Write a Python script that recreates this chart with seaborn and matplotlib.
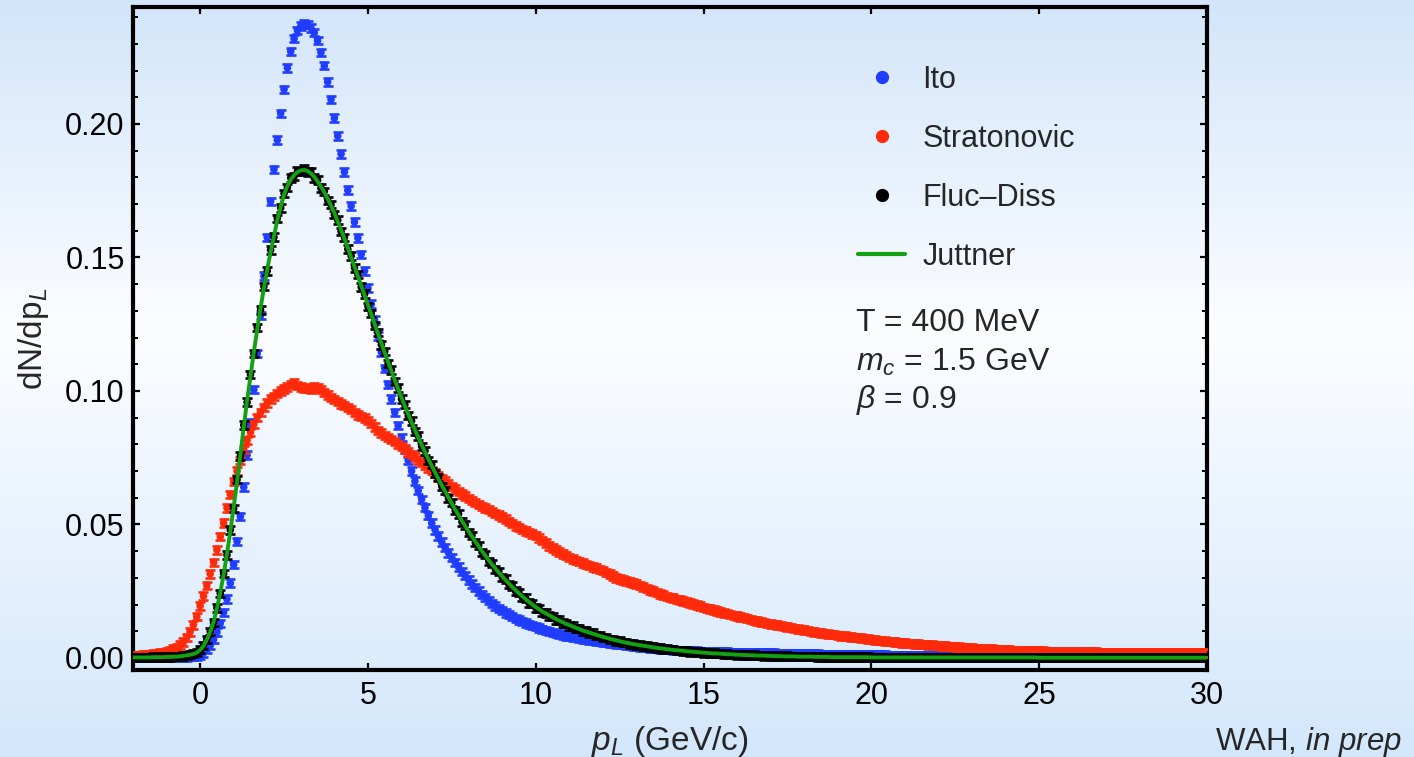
import numpy as np
import pandas as pd
import matplotlib
matplotlib.use("Agg")
import matplotlib.pyplot as plt
from matplotlib.lines import Line2D
from matplotlib.ticker import MultipleLocator, FixedLocator
import seaborn as sns

# ---------------------------------------------------------------------------
# Longitudinal momentum spectra of charm quarks, bins of 0.1 GeV/c from -2 to 30
# ---------------------------------------------------------------------------
P_START = -2.0
P_STEP = 0.1

ito = [
    0.0001, 0.0001, 0.0001, 0.0001, 0.0001, 0.0001, 0.0001, 0.0001, 0.0002, 0.0002,
    0.0002, 0.0002, 0.0002, 0.0002, 0.0003, 0.0003, 0.0004, 0.0005, 0.0006, 0.0008,
    0.0011, 0.0019, 0.0031, 0.0047, 0.0069, 0.0097, 0.0130, 0.0171, 0.0221, 0.0280,
    0.0350, 0.0437, 0.0530, 0.0640, 0.0760, 0.0880, 0.1005, 0.1140, 0.1282, 0.1430,
    0.1575, 0.1710, 0.1830, 0.1940, 0.2040, 0.2130, 0.2210, 0.2272, 0.2320, 0.2350,
    0.2366, 0.2375, 0.2372, 0.2360, 0.2342, 0.2312, 0.2268, 0.2218, 0.2158, 0.2092,
    0.2022, 0.1955, 0.1888, 0.1820, 0.1752, 0.1693, 0.1633, 0.1573, 0.1512, 0.1450,
    0.1385, 0.1325, 0.1265, 0.1205, 0.1145, 0.1085, 0.1025, 0.0970, 0.0920, 0.0870,
    0.0825, 0.0780, 0.0740, 0.0700, 0.0662, 0.0627, 0.0594, 0.0563, 0.0533, 0.0505,
    0.0480, 0.0456, 0.0434, 0.0413, 0.0394, 0.0376, 0.0358, 0.0341, 0.0324, 0.0308,
    0.0292, 0.0277, 0.0263, 0.0250, 0.0238, 0.0226, 0.0215, 0.0204, 0.0194, 0.0185,
    0.0177, 0.0169, 0.0162, 0.0155, 0.0148, 0.0142, 0.0136, 0.0131, 0.0126, 0.0121,
    0.0117, 0.0112, 0.0107, 0.0103, 0.0099, 0.0095, 0.0092, 0.0089, 0.0086, 0.0083,
    0.0080, 0.0078, 0.0076, 0.0073, 0.0071, 0.0069, 0.0067, 0.0065, 0.0063, 0.0061,
    0.0060, 0.0058, 0.0056, 0.0055, 0.0053, 0.0051, 0.0050, 0.0048, 0.0046, 0.0045,
    0.0043, 0.0042, 0.0040, 0.0039, 0.0037, 0.0036, 0.0035, 0.0034, 0.0033, 0.0032,
    0.0031, 0.0030, 0.0029, 0.0029, 0.0028, 0.0027, 0.0027, 0.0026, 0.0026, 0.0025,
    0.0025, 0.0024, 0.0024, 0.0023, 0.0023, 0.0022, 0.0022, 0.0022, 0.0021, 0.0021,
    0.0021, 0.0020, 0.0020, 0.0020, 0.0019, 0.0019, 0.0019, 0.0019, 0.0018, 0.0018,
    0.0018, 0.0018, 0.0017, 0.0017, 0.0017, 0.0017, 0.0016, 0.0016, 0.0016, 0.0016,
    0.0015, 0.0015, 0.0015, 0.0015, 0.0015, 0.0014, 0.0014, 0.0014, 0.0014, 0.0014,
    0.0013, 0.0013, 0.0013, 0.0013, 0.0013, 0.0012, 0.0012, 0.0012, 0.0012, 0.0012,
    0.0011, 0.0011, 0.0011, 0.0011, 0.0011, 0.0010, 0.0010, 0.0010, 0.0010, 0.0010,
    0.0010, 0.0009, 0.0009, 0.0009, 0.0009, 0.0009, 0.0009, 0.0008, 0.0008, 0.0008,
    0.0008, 0.0008, 0.0008, 0.0008, 0.0007, 0.0007, 0.0007, 0.0007, 0.0007, 0.0007,
    0.0007, 0.0006, 0.0006, 0.0006, 0.0006, 0.0006, 0.0006, 0.0006, 0.0006, 0.0005,
    0.0005, 0.0005, 0.0005, 0.0005, 0.0005, 0.0005, 0.0005, 0.0005, 0.0005, 0.0005,
    0.0005, 0.0005, 0.0005, 0.0004, 0.0004, 0.0004, 0.0004, 0.0004, 0.0004, 0.0004,
    0.0004, 0.0004, 0.0004, 0.0004, 0.0004, 0.0004, 0.0004, 0.0004, 0.0004, 0.0004,
    0.0004, 0.0004, 0.0004, 0.0003, 0.0003, 0.0003, 0.0003, 0.0003, 0.0003, 0.0003,
    0.0003, 0.0003, 0.0003, 0.0003, 0.0003, 0.0003, 0.0003, 0.0003, 0.0003, 0.0003,
    0.0003, 0.0003, 0.0003, 0.0003, 0.0003, 0.0003, 0.0003, 0.0003, 0.0003, 0.0003,
    0.0003,
]

stratonovic = [
    0.0008, 0.0009, 0.0010, 0.0011, 0.0012, 0.0014, 0.0015, 0.0017, 0.0019, 0.0021,
    0.0024, 0.0028, 0.0033, 0.0040, 0.0048, 0.0059, 0.0077, 0.0098, 0.0124, 0.0155,
    0.0195, 0.0232, 0.0272, 0.0315, 0.0358, 0.0405, 0.0455, 0.0505, 0.0562, 0.0613,
    0.0660, 0.0700, 0.0740, 0.0780, 0.0815, 0.0845, 0.0875, 0.0900, 0.0920, 0.0938,
    0.0955, 0.0970, 0.0980, 0.0990, 0.1000, 0.1008, 0.1015, 0.1025, 0.1030, 0.1020,
    0.1015, 0.1010, 0.1012, 0.1008, 0.1015, 0.1012, 0.1005, 0.0995, 0.0985, 0.0975,
    0.0968, 0.0960, 0.0952, 0.0945, 0.0938, 0.0930, 0.0920, 0.0910, 0.0905, 0.0898,
    0.0890, 0.0878, 0.0865, 0.0852, 0.0842, 0.0833, 0.0825, 0.0818, 0.0810, 0.0800,
    0.0792, 0.0782, 0.0772, 0.0762, 0.0752, 0.0742, 0.0732, 0.0722, 0.0712, 0.0702,
    0.0692, 0.0682, 0.0672, 0.0662, 0.0652, 0.0642, 0.0633, 0.0624, 0.0615, 0.0606,
    0.0598, 0.0590, 0.0582, 0.0575, 0.0568, 0.0562, 0.0556, 0.0549, 0.0542, 0.0535,
    0.0528, 0.0520, 0.0512, 0.0504, 0.0495, 0.0488, 0.0482, 0.0476, 0.0470, 0.0464,
    0.0458, 0.0449, 0.0440, 0.0430, 0.0420, 0.0412, 0.0405, 0.0397, 0.0390, 0.0383,
    0.0377, 0.0371, 0.0366, 0.0361, 0.0356, 0.0351, 0.0346, 0.0341, 0.0337, 0.0332,
    0.0327, 0.0321, 0.0315, 0.0307, 0.0300, 0.0296, 0.0292, 0.0288, 0.0285, 0.0281,
    0.0277, 0.0271, 0.0265, 0.0260, 0.0255, 0.0250, 0.0245, 0.0240, 0.0235, 0.0231,
    0.0227, 0.0224, 0.0220, 0.0217, 0.0213, 0.0210, 0.0206, 0.0202, 0.0198, 0.0194,
    0.0190, 0.0186, 0.0183, 0.0179, 0.0176, 0.0172, 0.0169, 0.0166, 0.0163, 0.0160,
    0.0158, 0.0154, 0.0151, 0.0147, 0.0144, 0.0140, 0.0138, 0.0135, 0.0133, 0.0130,
    0.0128, 0.0126, 0.0123, 0.0121, 0.0118, 0.0116, 0.0114, 0.0111, 0.0109, 0.0106,
    0.0104, 0.0102, 0.0100, 0.0098, 0.0096, 0.0094, 0.0092, 0.0090, 0.0088, 0.0087,
    0.0085, 0.0083, 0.0082, 0.0080, 0.0079, 0.0077, 0.0076, 0.0074, 0.0072, 0.0071,
    0.0069, 0.0068, 0.0066, 0.0065, 0.0064, 0.0062, 0.0061, 0.0060, 0.0058, 0.0057,
    0.0056, 0.0055, 0.0054, 0.0053, 0.0052, 0.0051, 0.0050, 0.0049, 0.0048, 0.0047,
    0.0046, 0.0045, 0.0044, 0.0043, 0.0043, 0.0042, 0.0041, 0.0040, 0.0039, 0.0038,
    0.0037, 0.0036, 0.0036, 0.0035, 0.0034, 0.0033, 0.0033, 0.0032, 0.0031, 0.0031,
    0.0030, 0.0030, 0.0029, 0.0029, 0.0028, 0.0028, 0.0028, 0.0027, 0.0027, 0.0026,
    0.0026, 0.0026, 0.0025, 0.0025, 0.0025, 0.0024, 0.0024, 0.0024, 0.0023, 0.0023,
    0.0023, 0.0023, 0.0023, 0.0022, 0.0022, 0.0022, 0.0022, 0.0022, 0.0021, 0.0021,
    0.0021, 0.0021, 0.0021, 0.0021, 0.0020, 0.0020, 0.0020, 0.0020, 0.0020, 0.0020,
    0.0020, 0.0020, 0.0019, 0.0019, 0.0019, 0.0019, 0.0019, 0.0019, 0.0019, 0.0019,
    0.0019, 0.0018, 0.0018, 0.0018, 0.0018, 0.0018, 0.0018, 0.0018, 0.0018, 0.0018,
    0.0018,
]

fluc_diss = [
    0.0002, 0.0002, 0.0002, 0.0002, 0.0002, 0.0002, 0.0003, 0.0003, 0.0003, 0.0003,
    0.0004, 0.0004, 0.0005, 0.0006, 0.0006, 0.0008, 0.0010, 0.0013, 0.0016, 0.0021,
    0.0031, 0.0047, 0.0070, 0.0100, 0.0133, 0.0188, 0.0242, 0.0316, 0.0386, 0.0480,
    0.0560, 0.0668, 0.0756, 0.0872, 0.0958, 0.1062, 0.1140, 0.1238, 0.1304, 0.1392,
    0.1450, 0.1528, 0.1576, 0.1646, 0.1686, 0.1740, 0.1762, 0.1798, 0.1804, 0.1824,
    0.1822, 0.1832, 0.1820, 0.1821, 0.1798, 0.1790, 0.1760, 0.1748, 0.1714, 0.1698,
    0.1661, 0.1640, 0.1598, 0.1575, 0.1531, 0.1506, 0.1461, 0.1436, 0.1389, 0.1363,
    0.1317, 0.1291, 0.1245, 0.1219, 0.1173, 0.1148, 0.1103, 0.1079, 0.1035, 0.1012,
    0.0970, 0.0949, 0.0908, 0.0888, 0.0849, 0.0831, 0.0793, 0.0776, 0.0740, 0.0725,
    0.0691, 0.0675, 0.0643, 0.0628, 0.0597, 0.0582, 0.0552, 0.0539, 0.0510, 0.0498,
    0.0470, 0.0459, 0.0432, 0.0422, 0.0396, 0.0387, 0.0362, 0.0354, 0.0331, 0.0324,
    0.0302, 0.0296, 0.0275, 0.0270, 0.0250, 0.0246, 0.0227, 0.0224, 0.0206, 0.0204,
    0.0188, 0.0185, 0.0171, 0.0169, 0.0157, 0.0155, 0.0143, 0.0142, 0.0131, 0.0130,
    0.0120, 0.0120, 0.0110, 0.0110, 0.0101, 0.0101, 0.0093, 0.0093, 0.0085, 0.0085,
    0.0077, 0.0077, 0.0070, 0.0070, 0.0064, 0.0064, 0.0058, 0.0058, 0.0053, 0.0053,
    0.0049, 0.0049, 0.0045, 0.0045, 0.0041, 0.0041, 0.0037, 0.0037, 0.0034, 0.0034,
    0.0031, 0.0031, 0.0028, 0.0028, 0.0026, 0.0026, 0.0023, 0.0024, 0.0021, 0.0022,
    0.0019, 0.0020, 0.0017, 0.0018, 0.0016, 0.0017, 0.0014, 0.0015, 0.0013, 0.0014,
    0.0012, 0.0013, 0.0011, 0.0012, 0.0010, 0.0011, 0.0009, 0.0010, 0.0008, 0.0009,
    0.0008, 0.0008, 0.0007, 0.0007, 0.0006, 0.0007, 0.0006, 0.0006, 0.0005, 0.0006,
    0.0005, 0.0005, 0.0005, 0.0005, 0.0004, 0.0004, 0.0004, 0.0004, 0.0003, 0.0004,
    0.0003, 0.0003, 0.0003, 0.0003, 0.0003, 0.0003, 0.0003, 0.0003, 0.0003, 0.0003,
    0.0002, 0.0002, 0.0002, 0.0002, 0.0002, 0.0002, 0.0002, 0.0002, 0.0002, 0.0002,
    0.0002, 0.0002, 0.0002, 0.0002, 0.0002, 0.0002, 0.0002, 0.0002, 0.0002, 0.0002,
    0.0002, 0.0002, 0.0002, 0.0002, 0.0002, 0.0002, 0.0002, 0.0002, 0.0002, 0.0002,
    0.0002, 0.0002, 0.0002, 0.0002, 0.0002, 0.0002, 0.0002, 0.0002, 0.0002, 0.0002,
    0.0002, 0.0002, 0.0002, 0.0002, 0.0002, 0.0002, 0.0002, 0.0002, 0.0002, 0.0002,
    0.0001, 0.0001, 0.0001, 0.0001, 0.0001, 0.0001, 0.0001, 0.0001, 0.0001, 0.0001,
    0.0001, 0.0001, 0.0001, 0.0001, 0.0001, 0.0001, 0.0001, 0.0001, 0.0001, 0.0001,
    0.0001, 0.0001, 0.0001, 0.0001, 0.0001, 0.0001, 0.0001, 0.0001, 0.0001, 0.0001,
    0.0001, 0.0001, 0.0001, 0.0001, 0.0001, 0.0001, 0.0001, 0.0001, 0.0001, 0.0001,
    0.0001, 0.0001, 0.0001, 0.0001, 0.0001, 0.0001, 0.0001, 0.0001, 0.0001, 0.0001,
    0.0001,
]

juttner = [
    0.0002, 0.0002, 0.0002, 0.0002, 0.0002, 0.0002, 0.0003, 0.0003, 0.0003, 0.0003,
    0.0004, 0.0004, 0.0005, 0.0005, 0.0006, 0.0008, 0.0010, 0.0012, 0.0015, 0.0020,
    0.0030, 0.0045, 0.0068, 0.0098, 0.0135, 0.0185, 0.0245, 0.0312, 0.0390, 0.0475,
    0.0565, 0.0660, 0.0760, 0.0865, 0.0965, 0.1055, 0.1145, 0.1230, 0.1310, 0.1385,
    0.1455, 0.1520, 0.1580, 0.1640, 0.1690, 0.1735, 0.1768, 0.1792, 0.1808, 0.1820,
    0.1826, 0.1828, 0.1824, 0.1815, 0.1802, 0.1785, 0.1765, 0.1744, 0.1720, 0.1694,
    0.1666, 0.1635, 0.1603, 0.1570, 0.1536, 0.1501, 0.1466, 0.1430, 0.1394, 0.1358,
    0.1322, 0.1286, 0.1250, 0.1214, 0.1178, 0.1143, 0.1108, 0.1074, 0.1040, 0.1007,
    0.0975, 0.0944, 0.0913, 0.0883, 0.0854, 0.0826, 0.0798, 0.0771, 0.0745, 0.0720,
    0.0695, 0.0671, 0.0647, 0.0624, 0.0601, 0.0578, 0.0556, 0.0535, 0.0514, 0.0494,
    0.0474, 0.0455, 0.0436, 0.0418, 0.0400, 0.0383, 0.0366, 0.0350, 0.0335, 0.0320,
    0.0306, 0.0292, 0.0279, 0.0266, 0.0254, 0.0242, 0.0231, 0.0220, 0.0210, 0.0200,
    0.0191, 0.0182, 0.0174, 0.0167, 0.0160, 0.0153, 0.0146, 0.0140, 0.0134, 0.0128,
    0.0123, 0.0118, 0.0113, 0.0108, 0.0103, 0.0099, 0.0095, 0.0091, 0.0087, 0.0083,
    0.0079, 0.0076, 0.0072, 0.0069, 0.0066, 0.0063, 0.0060, 0.0057, 0.0055, 0.0052,
    0.0050, 0.0048, 0.0046, 0.0044, 0.0042, 0.0040, 0.0038, 0.0036, 0.0035, 0.0033,
    0.0032, 0.0030, 0.0029, 0.0028, 0.0027, 0.0025, 0.0024, 0.0023, 0.0022, 0.0021,
    0.0020, 0.0019, 0.0018, 0.0017, 0.0017, 0.0016, 0.0015, 0.0014, 0.0014, 0.0013,
    0.0012, 0.0012, 0.0011, 0.0011, 0.0010, 0.0010, 0.0009, 0.0009, 0.0009, 0.0008,
    0.0008, 0.0007, 0.0007, 0.0007, 0.0006, 0.0006, 0.0006, 0.0006, 0.0005, 0.0005,
    0.0005, 0.0005, 0.0005, 0.0004, 0.0004, 0.0004, 0.0004, 0.0004, 0.0003, 0.0003,
    0.0003, 0.0003, 0.0003, 0.0003, 0.0003, 0.0003, 0.0003, 0.0003, 0.0003, 0.0003,
    0.0002, 0.0002, 0.0002, 0.0002, 0.0002, 0.0002, 0.0002, 0.0002, 0.0002, 0.0002,
    0.0002, 0.0002, 0.0002, 0.0002, 0.0002, 0.0002, 0.0002, 0.0002, 0.0002, 0.0002,
    0.0002, 0.0002, 0.0002, 0.0002, 0.0002, 0.0002, 0.0002, 0.0002, 0.0002, 0.0002,
    0.0002, 0.0002, 0.0002, 0.0002, 0.0002, 0.0002, 0.0002, 0.0002, 0.0002, 0.0002,
    0.0002, 0.0002, 0.0002, 0.0002, 0.0002, 0.0002, 0.0002, 0.0002, 0.0002, 0.0002,
    0.0001, 0.0001, 0.0001, 0.0001, 0.0001, 0.0001, 0.0001, 0.0001, 0.0001, 0.0001,
    0.0001, 0.0001, 0.0001, 0.0001, 0.0001, 0.0001, 0.0001, 0.0001, 0.0001, 0.0001,
    0.0001, 0.0001, 0.0001, 0.0001, 0.0001, 0.0001, 0.0001, 0.0001, 0.0001, 0.0001,
    0.0001, 0.0001, 0.0001, 0.0001, 0.0001, 0.0001, 0.0001, 0.0001, 0.0001, 0.0001,
    0.0001, 0.0001, 0.0001, 0.0001, 0.0001, 0.0001, 0.0001, 0.0001, 0.0001, 0.0001,
    0.0001,
]

# statistical uncertainty shown on every bin
stat_err = 0.0014

series_names = ["Ito", "Stratonovic", "Fluc\u2013Diss"]
line_name = "Juttner"
params_text = ["T = 400 MeV", r"$m_c$ = 1.5 GeV", r"$\beta$ = 0.9"]

x_ticks = [0, 5, 10, 15, 20, 25, 30]
y_ticks = [0.00, 0.05, 0.10, 0.15, 0.20]
y_tick_labels = ["0.00", "0.05", "0.10", "0.15", "0.20"]

# ---------------------------------------------------------------------------
p_l = np.round(P_START + P_STEP * np.arange(len(ito)), 1)
df = pd.DataFrame({
    "p": p_l,
    "Ito": ito,
    "Stratonovic": stratonovic,
    "Fluc\u2013Diss": fluc_diss,
    "Juttner": juttner,
})

sns.set_style("ticks")
plt.rcParams["font.family"] = ["Liberation Sans", "DejaVu Sans"]
plt.rcParams["mathtext.fontset"] = "custom"
plt.rcParams["mathtext.rm"] = "Liberation Sans"
plt.rcParams["mathtext.it"] = "Liberation Sans:italic"
plt.rcParams["mathtext.bf"] = "Liberation Sans:bold"

BLUE = "#1f3cff"
RED = "#ff2a0a"
BLACK = "#000000"
GREEN = "#13a013"

W, H = 1414, 757
fig = plt.figure(figsize=(W / 100, H / 100), dpi=100)

# soft blue-white-blue backdrop
bg = fig.add_axes([0, 0, 1, 1], zorder=0)
ypix = np.arange(H)
stops = [0, 330, H - 1]
cols = np.array([[210, 229, 250], [252, 253, 255], [211, 231, 251]]) / 255.0
grad = np.stack([np.interp(ypix, stops, cols[:, k]) for k in range(3)], axis=1)
bg.imshow(grad[:, None, :], aspect="auto", extent=[0, 1, 0, 1])
bg.set_axis_off()

ax_l, ax_r, ax_t, ax_b = 133, 1207, 7, 670
ax = fig.add_axes([ax_l / W, 1 - ax_b / H, (ax_r - ax_l) / W, (ax_b - ax_t) / H], zorder=1)
ax.patch.set_alpha(0)

for name, color, z in [("Ito", BLUE, 2), ("Stratonovic", RED, 3), ("Fluc\u2013Diss", BLACK, 4)]:
    ax.errorbar(df["p"], df[name], yerr=stat_err, fmt="none", ecolor=color,
                elinewidth=1.8, capsize=3.8, capthick=1.9, zorder=z)
    sns.scatterplot(data=df, x="p", y=name, color=color, s=30, edgecolor="none",
                    ax=ax, zorder=z, legend=False)

sns.lineplot(data=df, x="p", y="Juttner", color=GREEN, lw=2.8, ax=ax, zorder=6,
             legend=False)

ax.set_xlim(-2, 30)
ax.set_ylim(-0.0045, 0.2438)
ax.xaxis.set_major_locator(FixedLocator(x_ticks))
ax.yaxis.set_major_locator(FixedLocator(y_ticks))
ax.yaxis.set_minor_locator(MultipleLocator(0.01))
ax.set_yticklabels(y_tick_labels)
ax.tick_params(axis="both", which="both", direction="in", top=True, right=True,
               labelsize=22, colors="black")
ax.tick_params(axis="both", which="major", length=5, width=1.6)
ax.tick_params(axis="y", which="minor", length=3.5, width=1.4)
ax.tick_params(axis="x", which="minor", length=0)
ax.tick_params(axis="x", which="major", pad=8)
ax.tick_params(axis="y", which="major", pad=6)
for s in ax.spines.values():
    s.set_linewidth(3.0)
    s.set_color("black")

ax.set_xlabel(r"$p_L$ (GeV/c)", fontsize=24, labelpad=9)
ax.set_ylabel(r"dN/dp$_L$", fontsize=24, labelpad=10)

handles = [
    Line2D([], [], ls="none", marker="o", color=BLUE, markersize=8.5),
    Line2D([], [], ls="none", marker="o", color=RED, markersize=8.5),
    Line2D([], [], ls="none", marker="o", color=BLACK, markersize=8.5),
    Line2D([], [], color=GREEN, lw=3),
]
ax.legend(handles, series_names + [line_name], loc="upper left",
          bbox_to_anchor=(858 / W, 1 - 65 / H), bbox_transform=fig.transFigure,
          frameon=False, fontsize=22, borderpad=0, borderaxespad=0,
          handlelength=1.55, handletextpad=0.55, labelspacing=0.95)

for txt, yc in zip(params_text, [323, 362, 400]):
    fig.text(856 / W, 1 - yc / H, txt, fontsize=23, ha="left", va="center")

fig.text(1215 / W, 1 - 742 / H, r"WAH, $in\ prep$", fontsize=22.5, ha="left", va="center")

fig.savefig("out.png", dpi=100)
